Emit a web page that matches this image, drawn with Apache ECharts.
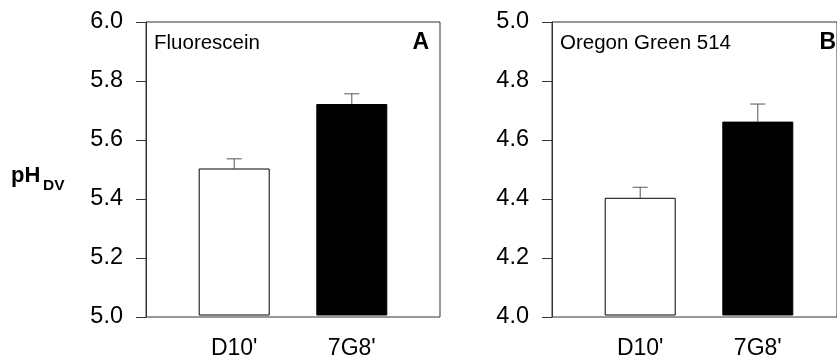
<!DOCTYPE html>
<html>
<head>
<meta charset="utf-8">
<script src="https://cdn.jsdelivr.net/npm/echarts@6/dist/echarts.min.js"></script>
<style>
html,body{margin:0;padding:0;background:#fff;}
#chart{width:837px;height:360px;}
</style>
</head>
<body>
<div id="chart"></div>
<script>
// ---- data ----
var categories = ["D10'", "7G8'"];
var fluoresceinMean = [5.50, 5.72];
var fluoresceinErr = [0.033, 0.035];
var oregonMean = [4.40, 4.66];
var oregonErr = [0.036, 0.060];
var panelTitles = ["Fluorescein", "Oregon Green 514"];
var panelLetters = ["A", "B"];
var yRangeA = [5.0, 6.0];
var yRangeB = [4.0, 5.0];
var yTickStep = 0.2;
var yAxisTitle = "pH";
var yAxisTitleSub = "DV";

// ---- styles ----
var FONT = "'Liberation Sans', Arial, Helvetica, sans-serif";
var barFills = ['#ffffff', '#000000'];
var lineColor = '#333';

var chart = echarts.init(document.getElementById('chart'), null, {renderer: 'canvas'});

function outerGrid(left) {
  return {left: left, top: 22, width: 294, height: 295, show: true,
          borderColor: lineColor, borderWidth: 1, backgroundColor: 'transparent', containLabel: false};
}
function innerGrid(left) {
  return {left: left + 29.4, top: 22, width: 235.2, height: 295, containLabel: false};
}
function visibleY(gridIndex, range) {
  return {
    type: 'value', gridIndex: gridIndex, min: range[0], max: range[1], interval: yTickStep,
    axisLine: {show: true, lineStyle: {color: lineColor, width: 1}},
    axisTick: {show: true, inside: false, length: 10, lineStyle: {color: lineColor, width: 1}},
    splitLine: {show: false},
    axisLabel: {show: true, margin: 23, color: '#000', fontSize: 23.5, fontFamily: FONT,
                formatter: function (v) { return v.toFixed(1); }}
  };
}
function hiddenY(gridIndex, range) {
  return {type: 'value', gridIndex: gridIndex, min: range[0], max: range[1], show: false,
          splitLine: {show: false}};
}
function hiddenX(gridIndex) {
  return {type: 'value', gridIndex: gridIndex, min: 0, max: 1, show: false, splitLine: {show: false}};
}
function catX(gridIndex) {
  return {
    type: 'category', gridIndex: gridIndex, data: categories,
    axisLine: {show: false}, axisTick: {show: false}, splitLine: {show: false},
    axisLabel: {show: true, margin: 22, color: '#000', fontSize: 23, fontFamily: FONT, interval: 0}
  };
}
function barSeries(axisIndex, means) {
  return {
    type: 'bar', xAxisIndex: axisIndex, yAxisIndex: axisIndex, barWidth: 71, clip: true,
    data: means.map(function (v, i) {
      return {value: v, itemStyle: {color: barFills[i], borderColor: '#000', borderWidth: 1}};
    }),
    z: 3, animation: false
  };
}
function errSeries(axisIndex, means, errs) {
  return {
    type: 'custom', xAxisIndex: axisIndex, yAxisIndex: axisIndex, z: 2, animation: false,
    data: means.map(function (v, i) { return [i, v, v + errs[i]]; }),
    renderItem: function (params, api) {
      var base = api.coord([api.value(0), api.value(1)]);
      var top = api.coord([api.value(0), api.value(2)]);
      var hw = 7.5;
      return {
        type: 'group',
        children: [
          {type: 'line', shape: {x1: base[0], y1: base[1], x2: top[0], y2: top[1]},
           style: {stroke: '#555', lineWidth: 1}},
          {type: 'line', shape: {x1: top[0] - hw, y1: top[1], x2: top[0] + hw, y2: top[1]},
           style: {stroke: '#555', lineWidth: 1}}
        ]
      };
    }
  };
}

var option = {
  backgroundColor: '#fff',
  animation: false,
  grid: [outerGrid(146), innerGrid(146), outerGrid(552), innerGrid(552)],
  xAxis: [hiddenX(0), catX(1), hiddenX(2), catX(3)],
  yAxis: [visibleY(0, yRangeA), hiddenY(1, yRangeA), visibleY(2, yRangeB), hiddenY(3, yRangeB)],
  series: [
    errSeries(1, fluoresceinMean, fluoresceinErr),
    barSeries(1, fluoresceinMean),
    errSeries(3, oregonMean, oregonErr),
    barSeries(3, oregonMean)
  ],
  graphic: [
    {type: 'text', x: 154, y: 43, style: {text: panelTitles[0], font: '20.5px ' + FONT, fill: '#000',
      textAlign: 'left', textVerticalAlign: 'middle'}},
    {type: 'text', x: 429, y: 43, style: {text: panelLetters[0], font: 'bold 23px ' + FONT, fill: '#000',
      textAlign: 'right', textVerticalAlign: 'middle'}},
    {type: 'text', x: 560, y: 43, style: {text: panelTitles[1], font: '20.5px ' + FONT, fill: '#000',
      textAlign: 'left', textVerticalAlign: 'middle'}},
    {type: 'text', x: 836, y: 43, style: {text: panelLetters[1], font: 'bold 23px ' + FONT, fill: '#000',
      textAlign: 'right', textVerticalAlign: 'middle'}},
    {type: 'text', x: 11, y: 176, style: {text: yAxisTitle, font: 'bold 22px ' + FONT, fill: '#000',
      textAlign: 'left', textVerticalAlign: 'middle'}},
    {type: 'text', x: 43, y: 185.5, style: {text: yAxisTitleSub, font: 'bold 15.5px ' + FONT, fill: '#000',
      textAlign: 'left', textVerticalAlign: 'middle'}}
  ]
};
chart.setOption(option);
</script>
</body>
</html>
